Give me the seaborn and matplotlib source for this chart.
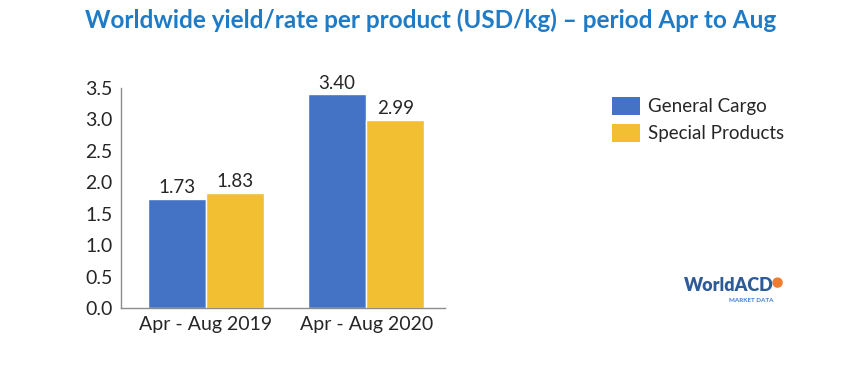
import matplotlib
matplotlib.use("Agg")
import matplotlib.pyplot as plt
import seaborn as sns
import pandas as pd
from matplotlib.patches import Patch, Ellipse

# data
periods = ["Apr - Aug 2019", "Apr - Aug 2020"]
products = ["General Cargo", "Special Products"]
general_cargo = [1.73, 3.40]
special_products = [1.83, 2.99]
yticks = [0.0, 0.5, 1.0, 1.5, 2.0, 2.5, 3.0, 3.5]

colors = ["#4472C4", "#F2BF33"]

sns.set_style("white")
plt.rcParams['font.family'] = ['Lato', 'DejaVu Sans']

df = pd.DataFrame({
    "period": periods * 2,
    "product": [products[0]] * 2 + [products[1]] * 2,
    "value": general_cargo + special_products,
})

fig = plt.figure(figsize=(8.63, 3.67), dpi=100)
ax = fig.add_axes([0.140, 0.161, 0.376, 0.599])

sns.barplot(data=df, x="period", y="value", hue="product", palette=colors,
            width=0.725, saturation=1, ax=ax, legend=False)

for cont in ax.containers:
    ax.bar_label(cont, fmt="%.2f", padding=2, fontsize=13.5, color="#262626")

ax.set_xlim(-0.531, 1.494)
ax.set_ylim(0, 3.5)
ax.set_yticks(yticks)
ax.set_yticklabels([f"{t:.1f}" for t in yticks])
ax.set_xlabel("")
ax.set_ylabel("")
ax.tick_params(axis="both", length=0, labelsize=14, colors="#262626", pad=6)
for s in ["top", "right"]:
    ax.spines[s].set_visible(False)
for s in ["left", "bottom"]:
    ax.spines[s].set_color("#8c8c8c")
    ax.spines[s].set_linewidth(1.0)

fig.text(0.499, 0.945, "Worldwide yield/rate per product (USD/kg) \u2013 period Apr to Aug",
         ha="center", va="center", fontsize=17.5, fontweight="bold", color="#1F7BC6")

handles = [Patch(facecolor=c, edgecolor="none") for c in colors]
fig.legend(handles, products, loc="upper left", bbox_to_anchor=(0.709, 0.737),
           frameon=False, fontsize=13.5, handlelength=1.49, handleheight=1.12,
           handletextpad=0.45, labelspacing=0.46, borderaxespad=0, borderpad=0,
           labelcolor="#262626")

# logo
fig.text(0.793, 0.222, "WorldACD", ha="left", va="center", fontsize=13,
         fontweight="heavy", color="#2D5B98")
fig.text(0.870, 0.180, "MARKET DATA", ha="center", va="center", fontsize=4.5,
         fontweight="bold", color="#3C7DD0")
fig.patches.append(Ellipse((0.901, 0.230), 9 / 863, 9 / 367, transform=fig.transFigure,
                           color="#F07D2E", figure=fig))

fig.savefig("out.png", dpi=100)
